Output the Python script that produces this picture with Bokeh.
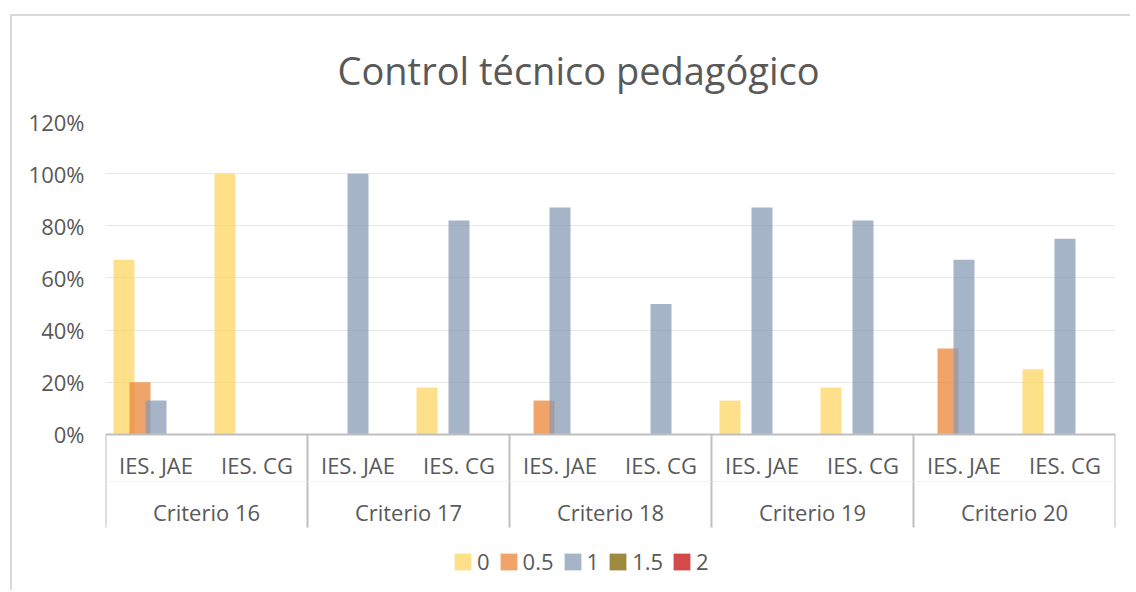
from bokeh.plotting import figure
from bokeh.models import (Range1d, LinearAxis, FixedTicker, NumeralTickFormatter,
                          Legend, LegendItem, ColumnDataSource)
from bokeh.transform import dodge
from bokeh.embed import file_html
from bokeh.resources import INLINE

title = "Control técnico pedagógico"
criteria = ["Criterio 16", "Criterio 17", "Criterio 18", "Criterio 19", "Criterio 20"]
schools = ["IES. JAE", "IES. CG"]
series_names = ["0", "0.5", "1", "1.5", "2"]
s_0 = [0.67, 1.00, 0.00, 0.18, 0.00, 0.00, 0.13, 0.18, 0.00, 0.25]
s_05 = [0.20, 0.00, 0.00, 0.00, 0.13, 0.00, 0.00, 0.00, 0.33, 0.00]
s_1 = [0.13, 0.00, 1.00, 0.82, 0.87, 0.50, 0.87, 0.82, 0.67, 0.75]
s_15 = [0.00, 0.00, 0.00, 0.00, 0.00, 0.00, 0.00, 0.00, 0.00, 0.00]
s_2 = [0.00, 0.00, 0.00, 0.00, 0.00, 0.00, 0.00, 0.00, 0.00, 0.00]
y_ticks = [0.0, 0.2, 0.4, 0.6, 0.8, 1.0, 1.2]

colors = ["#FFD663", "#EB8638", "#889BB6", "#806303", "#C60E0E"]
offsets = [-0.317, -0.158, 0.0, 0.158, 0.317]
BAR_W = 0.208
FONT = "Open Sans"
TXT = "#595959"

factors = [(c, s) for c in criteria for s in schools]
n = len(factors)
xpos = [i + 0.5 for i in range(n)]
src = ColumnDataSource(dict(x=xpos, s0=s_0, s05=s_05, s1=s_1, s15=s_15, s2=s_2))
cols = ["s0", "s05", "s1", "s15", "s2"]

p = figure(width=1120, height=576, output_backend="svg", toolbar_location=None,
           x_range=Range1d(0, n), y_range=Range1d(-0.56, 1.2), x_axis_location=None,
           min_border_left=93, min_border_right=17, min_border_top=104, min_border_bottom=12)
p.margin = (14, 0, 0, 10)
p.styles = {"border-left": "2px solid #D9D9D9", "border-top": "2px solid #D9D9D9"}
p.outline_line_color = None
p.background_fill_color = "white"
p.border_fill_color = "white"

p.title.text = title
p.title.text_font = FONT
p.title.text_font_size = "38px"
p.title.text_font_style = "normal"
p.title.text_color = TXT
p.title.align = "left"
p.title.offset = 232
p.title.standoff = 51

renderers = []
for col, off, colr in zip(cols, offsets, colors):
    r = p.vbar(x=dodge("x", off), top=col, width=BAR_W, source=src,
               fill_color=colr, fill_alpha=0.75, line_color=None)
    renderers.append(r)

# y axis
p.yaxis.ticker = FixedTicker(ticks=y_ticks)
p.yaxis.formatter = NumeralTickFormatter(format="0%")
p.yaxis.axis_line_color = None
p.yaxis.major_tick_line_color = None
p.yaxis.minor_tick_line_color = None
p.yaxis.major_label_text_font = FONT
p.yaxis.major_label_text_font_size = "22px"
p.yaxis.major_label_text_color = TXT
p.yaxis.major_label_standoff = 15
p.ygrid.grid_line_color = "#E8E8E8"
p.ygrid.grid_line_width = 1
p.xgrid.grid_line_color = None

# multi-level category axis, drawn under the zero line
sub_ticks = xpos
grp_ticks = [2 * i + 1.0 for i in range(len(criteria))]
bounds = [2.0 * i for i in range(len(criteria) + 1)]

sub_over = {}
for t, f in zip(sub_ticks, factors):
    sub_over[t] = f[1]
    sub_over[str(t)] = f[1]
grp_over = {}
for t, c in zip(grp_ticks, criteria):
    grp_over[t] = c
    grp_over[str(int(t))] = c
    grp_over[str(t)] = c

ax1 = LinearAxis(ticker=FixedTicker(ticks=sub_ticks, minor_ticks=bounds),
                 major_label_overrides=sub_over, fixed_location=0)
ax2 = LinearAxis(ticker=FixedTicker(ticks=grp_ticks, minor_ticks=bounds),
                 major_label_overrides=grp_over, fixed_location=-0.18)
for ax, line_c, mt in ((ax1, "#BFBFBF", 47), (ax2, "#F2F2F2", 46)):
    ax.axis_line_color = line_c
    ax.axis_line_width = 2 if ax is ax1 else 1
    ax.major_tick_line_color = None
    ax.major_tick_out = 0
    ax.major_tick_in = 0
    ax.minor_tick_line_color = "#BFBFBF"
    ax.minor_tick_line_width = 2
    ax.minor_tick_in = -mt
    ax.minor_tick_out = 0
    ax.major_label_text_font = FONT
    ax.major_label_text_font_size = "22px"
    ax.major_label_text_color = TXT
    ax.major_label_standoff = 16
    p.add_layout(ax, "below")

legend = Legend(items=[LegendItem(label=s, renderers=[r]) for s, r in zip(series_names, renderers)],
                orientation="horizontal", location=(347, 4))
legend.label_text_font = FONT
legend.label_text_font_size = "22px"
legend.label_text_color = TXT
legend.label_width = 0
legend.glyph_width = 21
legend.glyph_height = 21
legend.label_standoff = 4
legend.spacing = 8
legend.padding = 0
legend.margin = 0
legend.border_line_color = None
legend.background_fill_alpha = 0
p.add_layout(legend, "center")

open("out.html", "w").write(file_html(p, INLINE))
